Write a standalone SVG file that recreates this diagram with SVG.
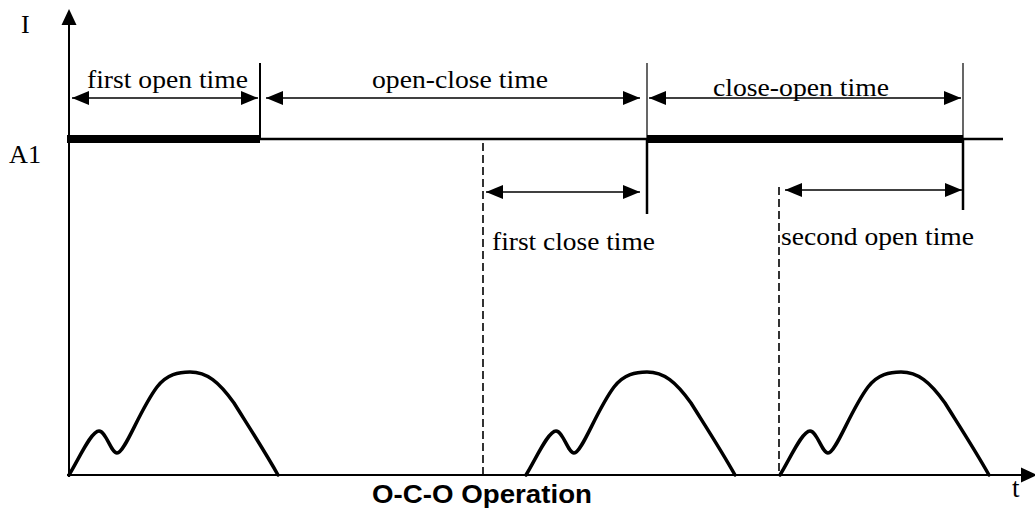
<svg xmlns="http://www.w3.org/2000/svg" width="1035" height="511" viewBox="0 0 1035 511">
<style>
.t{font-family:"Liberation Serif","Times New Roman",serif;font-size:26px;fill:#000}
.b{font-family:"Liberation Sans",Arial,sans-serif;font-size:25px;font-weight:bold;fill:#000}
.dim{stroke:#000;stroke-width:1.5;fill:none;marker-start:url(#ah);marker-end:url(#ah)}
.dash{stroke:#000;stroke-width:1.6;stroke-dasharray:8 4;fill:none}
.wave{stroke:#000;stroke-width:3.5;fill:none;stroke-linejoin:round;stroke-linecap:round}
.ln{stroke:#000;fill:none}
</style>
<defs>
<marker id="ah" markerUnits="userSpaceOnUse" markerWidth="18" markerHeight="15" refX="17" refY="7" orient="auto-start-reverse" viewBox="0 0 18 15">
<path d="M0,0 L17,7 L0,14 z" fill="#000"/>
</marker>
<path id="pulse" d="M0,0 C10,-16 22,-44 30,-44 C37,-44 42,-22 48,-22 C56,-22 70,-64 88,-88 C98,-101 110,-103 121,-103 C138,-103 150,-93 165,-72 C180,-48 195,-25 209,0"/>
</defs>
<g id="axes">
<line class="ln" x1="69" y1="24" x2="69" y2="477" stroke-width="2"/>
<polygon points="69,9 61.5,25 76.5,25" fill="#000"/>
<line class="ln" x1="67" y1="475" x2="1022" y2="475" stroke-width="2"/>
<polygon points="1037,475 1021,467.5 1021,482.5" fill="#000"/>
<text class="t" x="21" y="33">I</text>
<text class="t" x="1012" y="497" style="font-size:27px">t</text>
</g>
<g id="a1-level">
<line class="ln" x1="69" y1="139" x2="1003" y2="139" stroke-width="2.5"/>
<rect x="67" y="135" width="193" height="8" fill="#000"/>
<rect x="647" y="135" width="316" height="8" fill="#000"/>
<text class="t" x="9" y="163" textLength="32" lengthAdjust="spacingAndGlyphs">A1</text>
</g>
<g id="markers">
<line class="ln" x1="260" y1="63" x2="260" y2="139" stroke-width="2"/>
<line class="ln" x1="647" y1="63" x2="647" y2="139" stroke-width="1.2"/>
<line class="ln" x1="647" y1="139" x2="647" y2="214" stroke-width="2.5"/>
<line class="ln" x1="963" y1="63" x2="963" y2="139" stroke-width="1.2"/>
<line class="ln" x1="963" y1="139" x2="963" y2="210" stroke-width="2.5"/>
<line class="dash" x1="483" y1="143" x2="483" y2="475"/>
<line class="dash" x1="779" y1="187" x2="779" y2="475"/>
</g>
<g id="connectors">
<line class="dim" x1="72" y1="98" x2="258" y2="98"/>
<line class="dim" x1="266" y1="98" x2="640" y2="98"/>
<line class="dim" x1="649" y1="98" x2="961" y2="98"/>
<line class="dim" x1="486" y1="192" x2="640" y2="192"/>
<line class="dim" x1="785" y1="190" x2="962" y2="190"/>
</g>
<g id="labels">
<text class="t" x="87" y="88" textLength="161" lengthAdjust="spacingAndGlyphs">first open time</text>
<text class="t" x="372" y="88" textLength="176" lengthAdjust="spacingAndGlyphs">open-close time</text>
<text class="t" x="713" y="96" textLength="176" lengthAdjust="spacingAndGlyphs">close-open time</text>
<text class="t" x="492" y="250" textLength="163" lengthAdjust="spacingAndGlyphs">first close time</text>
<text class="t" x="781" y="245" textLength="193" lengthAdjust="spacingAndGlyphs">second open time</text>
<text class="b" x="372" y="503" textLength="220" lengthAdjust="spacingAndGlyphs">O-C-O Operation</text>
</g>
<g id="pulses">
<use href="#pulse" class="wave" transform="translate(69,475)"/>
<use href="#pulse" class="wave" transform="translate(526,475)"/>
<use href="#pulse" class="wave" transform="translate(780,475)"/>
</g>
</svg>
